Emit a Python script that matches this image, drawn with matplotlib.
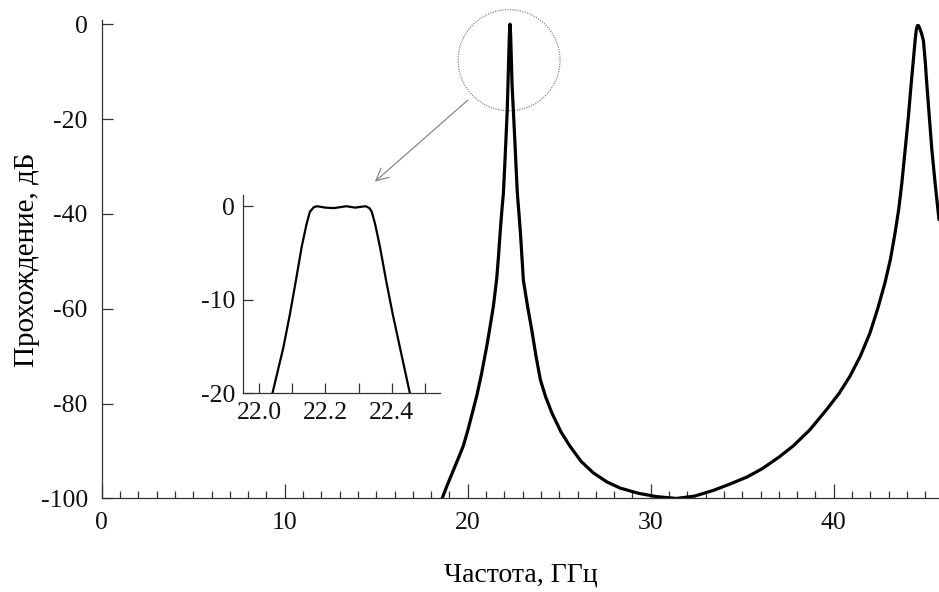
import matplotlib
matplotlib.use("Agg")
import matplotlib.pyplot as plt
from matplotlib.patches import Ellipse
from matplotlib.ticker import MultipleLocator

# --- данные ---
# основной график: частота (ГГц) и прохождение (дБ)
main_freq = [18.6, 18.9, 19.2, 19.5, 19.76, 20.0, 20.25, 20.49, 20.75,
             21.04, 21.22, 21.4, 21.58, 21.68, 21.77, 21.86, 21.95, 22.02,
             22.08, 22.16, 22.2, 22.24, 22.27, 22.29, 22.31, 22.33, 22.35,
             22.38, 22.42, 22.49, 22.58, 22.64, 22.71, 22.8, 22.88, 22.96,
             23.04, 23.27, 23.5, 23.73, 23.97, 24.25, 24.6, 25.1, 25.59,
             26.2, 26.86, 27.6, 28.32, 29.32, 30.3, 31.4, 32.4, 33.42,
             34.3, 35.25, 36.1, 37.0, 37.79, 38.7, 39.62, 40.3, 40.89,
             41.45, 41.98, 42.4, 42.8, 43.1, 43.35, 43.55, 43.72, 43.9,
             44.08, 44.22, 44.35, 44.45, 44.51, 44.57, 44.63, 44.7, 44.8,
             44.9, 45.0, 45.08, 45.22, 45.36, 45.55, 45.75]
main_db = [-100, -97, -94.2, -91.4, -88.9, -85.7, -82, -78.4, -73.8,
           -67.9, -63.8, -59.5, -53.8, -49, -44, -39.5, -35.6, -30,
           -25, -18, -12.5, -7, -3, -1, 0, -1, -3,
           -7, -12.5, -18, -25, -30, -35.6, -40, -44, -49,
           -54, -59.5, -64.5, -70, -75, -78.5, -82, -86, -89,
           -92.2, -94.6, -96.5, -97.8, -98.9, -99.6, -100, -99.5, -98.3,
           -97.0, -95.5, -93.7, -91.3, -88.9, -85.5, -81.2, -77.8, -74.2,
           -70, -65.1, -60, -54.5, -49.5, -44.0, -39, -33.5, -26.5,
           -19.4, -13, -7.5, -3.2, -1.2, -0.3, -0.3, -0.9, -2,
           -3.5, -8, -12.4, -19.5, -26.5, -34, -41.2]

# врезка: вершина первого пика
inset_freq = [22.04, 22.073, 22.093, 22.111, 22.128, 22.143, 22.153,
              22.165, 22.175, 22.2, 22.225, 22.245, 22.263, 22.29, 22.31,
              22.322, 22.333, 22.34, 22.35, 22.365, 22.383, 22.403,
              22.425, 22.455]
inset_db = [-20, -15.1, -11.5, -7.9, -4.4, -1.9, -0.6,
            -0.1, 0, -0.15, -0.2, -0.1, 0, -0.15, -0.05,
            0, -0.2, -0.6, -1.9, -4.4, -7.9, -11.5,
            -15.1, -20]

main_xticks = [0, 10, 20, 30, 40]
main_yticks = [0, -20, -40, -60, -80, -100]
inset_xticks = [22.0, 22.2, 22.4]
inset_yticks = [0, -10, -20]

plt.rcParams['font.family'] = ['Liberation Serif', 'DejaVu Serif']
plt.rcParams['font.size'] = 18.5

AX_COLOR = '#333333'


def style_axes(ax):
    for side in ('top', 'right'):
        ax.spines[side].set_visible(False)
    for side in ('left', 'bottom'):
        ax.spines[side].set_color(AX_COLOR)
        ax.spines[side].set_linewidth(0.9)
    ax.tick_params(which='both', direction='in', color=AX_COLOR,
                   width=0.9, labelcolor='#111111')


def main():
    fig = plt.figure(figsize=(9.39, 5.92), dpi=100)

    # основной график
    ax = fig.add_axes([0.1083, 0.158, 0.8917, 0.808])
    ax.plot(main_freq, main_db, color='black', lw=2.3,
            solid_joinstyle='round', solid_capstyle='round')
    ax.set_xlim(0, 45.75)
    ax.set_ylim(-100, 0.85)
    ax.set_xticks(main_xticks)
    ax.set_yticks(main_yticks)
    ax.set_yticklabels([str(v) for v in main_yticks])
    ax.xaxis.set_minor_locator(MultipleLocator(1))
    style_axes(ax)
    ax.tick_params(axis='x', which='major', length=10, pad=10)
    ax.tick_params(axis='x', which='minor', length=5)
    ax.tick_params(axis='y', which='major', length=8, pad=10)
    ax.set_xlabel('Частота, ГГц', fontsize=20, labelpad=20)
    ax.set_ylabel('Прохождение, дБ', fontsize=21)
    ax.yaxis.set_label_coords(-0.074, 0.5)

    # кружок вокруг пика и стрелка к врезке
    circ = Ellipse((22.26, -7.6), 5.57, 21.3, fill=False, clip_on=False,
                   edgecolor='#888888', lw=0.9, linestyle=(0, (1, 1)))
    ax.add_patch(circ)
    ax.annotate('', xy=(14.81, -33.6), xytext=(20.13, -15.6),
                arrowprops=dict(arrowstyle='->', color='#888888', lw=0.9,
                                mutation_scale=22))

    # врезка
    axin = fig.add_axes([0.2591, 0.3356, 0.2095, 0.335])
    axin.plot(inset_freq, inset_db, color='black', lw=1.6,
              solid_joinstyle='round')
    axin.set_xlim(21.952, 22.546)
    axin.set_ylim(-20, 1.2)
    axin.set_xticks(inset_xticks)
    axin.set_xticklabels(['22.0', '22.2', '22.4'])
    axin.set_yticks(inset_yticks)
    axin.set_yticklabels([str(v) for v in inset_yticks])
    axin.xaxis.set_minor_locator(MultipleLocator(0.1))
    axin.patch.set_alpha(0)
    style_axes(axin)
    axin.tick_params(axis='x', which='both', length=7, pad=6)
    axin.tick_params(axis='y', which='major', length=7, pad=6)

    fig.savefig('out.png', dpi=100)


if __name__ == "__main__":
    main()
